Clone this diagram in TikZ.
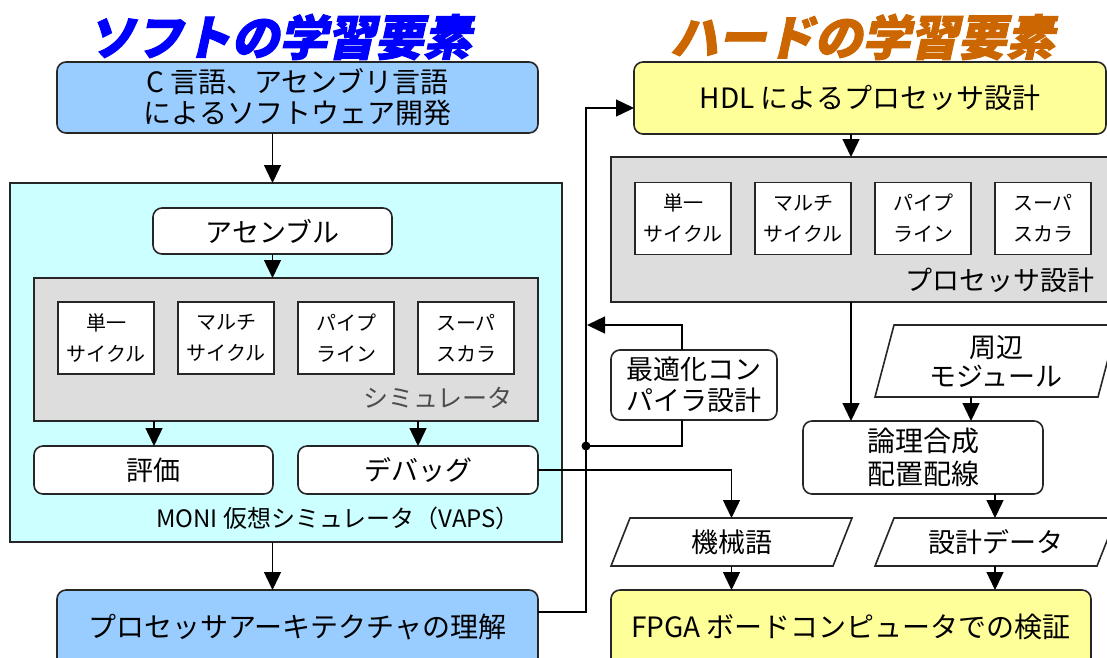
\documentclass[tikz,border=0pt]{standalone}
\usepackage{fontspec}
\setmainfont{Noto Sans CJK JP}
\newfontfamily\titlefont[FakeSlant=0.22,FakeBold=2]{Noto Sans CJK JP}
\usetikzlibrary{arrows.meta,calc,backgrounds}
\definecolor{softblue}{RGB}{0,0,255}
\definecolor{hardorange}{RGB}{204,102,0}
\definecolor{lblue}{RGB}{153,204,255}
\definecolor{lcyan}{RGB}{204,255,255}
\definecolor{lgray}{RGB}{221,221,221}
\definecolor{lyellow}{RGB}{255,255,153}
\newcommand\mainsz{\fontsize{27}{31}\selectfont}
\newcommand\bigsz{\fontsize{28}{31}\selectfont}
\newcommand\smsz{\fontsize{20}{31}\selectfont}
\tikzset{
  box/.style={draw=black!85, line width=1.6pt, inner sep=0pt, outer sep=0pt, align=center, font=\mainsz},
  rbox/.style={box, rounded corners=9pt},
  sbox/.style={box, fill=white, font=\smsz, minimum width=96pt, minimum height=72pt},
  grp/.style={box, fill=lgray},
  plab/.style={inner sep=0pt, outer sep=0pt, align=center, font=\mainsz},
  pline/.style={draw=black!85, line width=1.6pt, fill=white},
  conn/.style={line width=1.4pt, draw=black},
  arr/.style={conn, -{Triangle[length=18pt,width=17pt]}},
  ttl/.style={font=\titlefont\bfseries\fontsize{48}{52}\selectfont, inner sep=0pt}
}
\begin{document}
\begin{tikzpicture}[x=1pt,y=-1pt]
\useasboundingbox (0,0) rectangle (1107,657);
\begin{scope}[on background layer]
\fill[white] (0,0) rectangle (1107,657);
\end{scope}

% ---------- titles ----------
\node[ttl, text=softblue] (tsoft) at (279,37) {ソフトの学習要素};
\node[ttl, text=hardorange] (thard) at (862,37) {ハードの学習要素};

% ---------- software side ----------
\node[rbox, fill=lblue, font=\bigsz, minimum width=481pt, minimum height=71pt] (csoft) at (297.5,97.5)
  {C 言語、アセンブリ言語\\によるソフトウェア開発};
\node[box, fill=lcyan, minimum width=552pt, minimum height=359pt] (vaps) at (286,362.5) {};
\node[rbox, fill=white, minimum width=239pt, minimum height=46pt] (asm) at (272.5,231) {アセンブル};
\node[grp, minimum width=504pt, minimum height=143pt] (sim) at (286,349.5) {};
\node[sbox] (l1) at (106,338) {単一\\サイクル};
\node[sbox] (l2) at (226,338) {マルチ\\サイクル};
\node[sbox] (l3) at (346,338) {パイプ\\ライン};
\node[sbox] (l4) at (466,338) {スーパ\\スカラ};
\node[plab, text=black!70, font=\fontsize{25}{30}\selectfont] (simlab) at (438,398) {シミュレータ};
\node[rbox, fill=white, minimum width=239pt, minimum height=48pt] (hyoka) at (153.5,470) {評価};
\node[rbox, fill=white, minimum width=240pt, minimum height=48pt] (debug) at (418,470) {デバッグ};
\node[plab, font=\fontsize{24}{28}\selectfont] (vapslab) at (338,518) {MONI 仮想シミュレータ（VAPS）};
\node[rbox, fill=lblue, font=\bigsz, minimum width=481pt, minimum height=80pt] (arch) at (297.5,630)
  {\raisebox{8pt}{プロセッサアーキテクチャの理解}};

% ---------- hardware side ----------
\node[rbox, fill=lyellow, font=\bigsz, minimum width=472pt, minimum height=72pt] (hdl) at (870,98) {HDL によるプロセッサ設計};
\node[grp, minimum width=504pt, minimum height=145pt] (proc) at (863,229.5) {};
\node[sbox] (r1) at (683,218.5) {単一\\サイクル};
\node[sbox] (r2) at (803,218.5) {マルチ\\サイクル};
\node[sbox] (r3) at (923,218.5) {パイプ\\ライン};
\node[sbox] (r4) at (1043,218.5) {スーパ\\スカラ};
\node[plab] (proclab) at (1000,280) {プロセッサ設計};

\node[rbox, fill=white, minimum width=166pt, minimum height=70pt] (opt) at (694,385) {最適化コン\\パイラ設計};

\filldraw[pline] (894,325) -- (1117,325) -- (1098,397) -- (875,397) -- cycle;
\node[plab, minimum width=242pt, minimum height=72pt, font=\fontsize{27}{29}\selectfont] (shuhen) at (996,361) {周辺\\モジュール};

\node[rbox, fill=white, font=\fontsize{28}{33}\selectfont, minimum width=240pt, minimum height=73pt] (ronri) at (923,457.5) {論理合成\\配置配線};

\filldraw[pline] (630,518) -- (852,518) -- (833,566) -- (611,566) -- cycle;
\node[plab, minimum width=241pt, minimum height=48pt] (kikai) at (731.5,542) {機械語};
\filldraw[pline] (894,518) -- (1116,518) -- (1097,566) -- (875,566) -- cycle;
\node[plab, minimum width=241pt, minimum height=48pt] (sekkei) at (995.5,542) {設計データ};

\node[rbox, fill=lyellow, font=\bigsz, minimum width=480pt, minimum height=80pt] (fpga) at (851,630)
  {\raisebox{8pt}{FPGA ボードコンピュータでの検証}};

% ---------- connectors: software ----------
\draw[arr] (csoft.south -| asm.south) -- (vaps.north -| asm.south);
\draw[arr] (asm.south) -- (sim.north -| asm.south);
\draw[arr] (sim.south -| l1.east) -- (hyoka.north -| l1.east);
\draw[arr] (sim.south -| l4.west) -- (debug.north -| l4.west);
\draw[arr] (vaps.south -| asm.south) -- (arch.north -| asm.south);

% ---------- connectors: hardware ----------
\draw[arr] (hdl.south -| r2.east) -- (proc.north -| r2.east);
\draw[arr] (proc.south -| r2.east) -- (ronri.north -| r2.east);
\draw[arr] (shuhen.south -| r3.east) -- (ronri.north -| r3.east);
\draw[arr] (ronri.south -| r4.west) -- (sekkei.north -| r4.west);
\draw[arr] (sekkei.south -| r4.west) -- (fpga.north -| r4.west);
\draw[arr] (kikai.south) -- (fpga.north -| kikai.south);
\draw[arr] (debug.east) -| (kikai.north);

% ---------- feedback bus ----------
\coordinate (bus) at (586,0);
\coordinate (aout) at ($(arch.north east)+(0,22)$);
\coordinate (hin) at ($(hdl.west)+(0,10)$);
\draw[arr] (aout) -- (aout -| bus) -- (hin -| bus) -- (hin);
\coordinate (optt) at ($(opt.north)+(-12,0)$);
\coordinate (optin) at (587,325);
\draw[arr] (optt) |- (optin);
\coordinate (optb) at ($(opt.south)+(-12,0)$);
\coordinate (jn) at (586,446);
\draw[conn] (optb) |- (jn);
\fill (jn) circle (4.5pt);
\end{tikzpicture}
\end{document}
